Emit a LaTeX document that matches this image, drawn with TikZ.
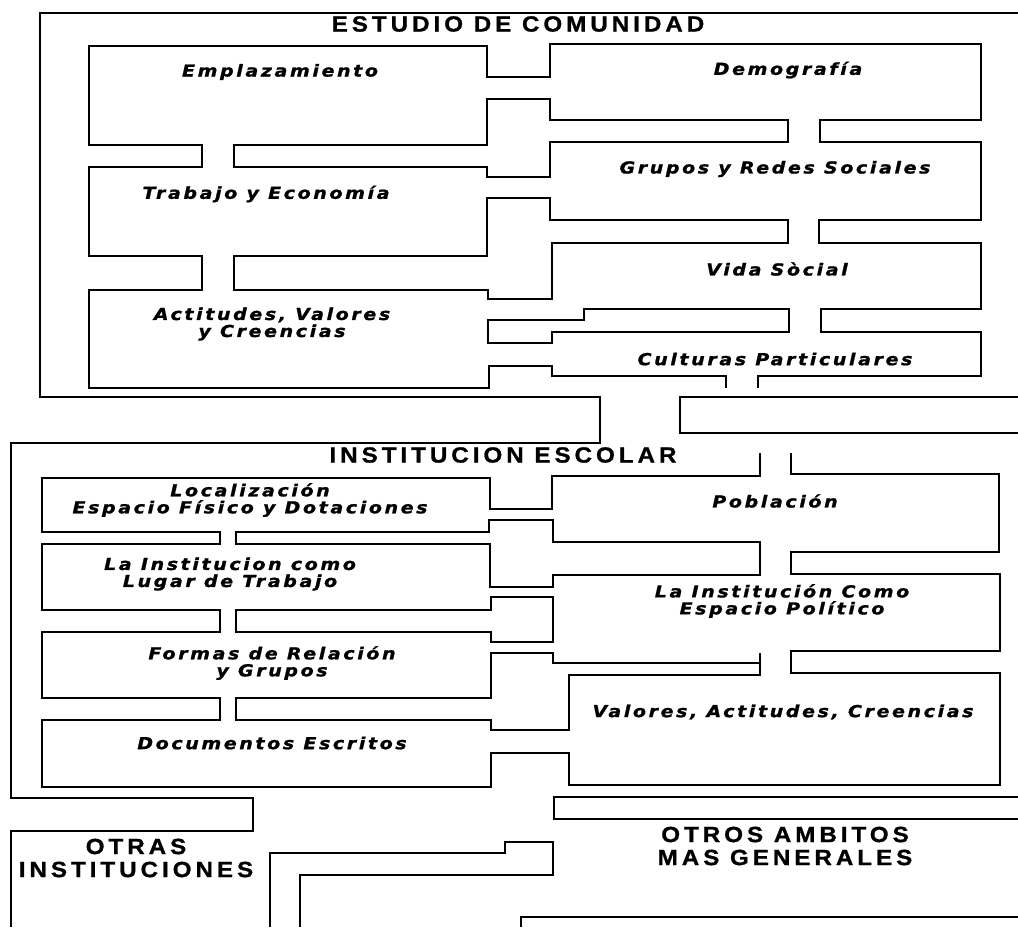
\documentclass[tikz,border=0pt]{standalone}
\usepackage{fontspec}
\setmainfont{Liberation Sans}
\newfontfamily\roomfam[LetterSpace=16, FakeStretch=1.15, FakeBold=1.2]{DejaVu Sans Bold Oblique}
\newfontfamily\headfam[LetterSpace=18, FakeStretch=1.1, FakeBold=1]{Liberation Sans Bold}
\newcommand{\roomfont}{\roomfam\fontsize{16.5}{17}\selectfont}
\newcommand{\headfont}{\headfam\fontsize{22}{23}\selectfont}

\begin{document}
\begin{tikzpicture}[x=1pt, y=-1pt, line join=miter,
    wall/.style={line width=1.8pt},
    room/.style={font=\roomfont, align=center, inner sep=0pt},
    head/.style={font=\headfont, align=center, inner sep=0pt}]
  \useasboundingbox (0,0) rectangle (1018,927);

  % estudio de comunidad
  \draw[wall] (1018,13) -- (40,13) -- (40,397) -- (600,397) -- (600,443) -- (11,443) -- (11,798)
    -- (253,798) -- (253,831) -- (11,831) -- (11,927);
  \draw[wall] (1018,397) -- (680,397) -- (680,433) -- (1018,433);
  \draw[wall] (726,388) -- (726,376) -- (552,376) -- (552,366) -- (489,366) -- (489,388) -- (89,388)
    -- (89,290) -- (202,290) -- (202,256) -- (89,256) -- (89,167) -- (202,167) -- (202,145)
    -- (89,145) -- (89,46) -- (487,46) -- (487,77) -- (550,77) -- (550,44) -- (981,44)
    -- (981,120) -- (820,120) -- (820,142) -- (981,142) -- (981,220) -- (819,220) -- (819,243)
    -- (981,243) -- (981,309) -- (821,309) -- (821,332) -- (981,332) -- (981,376) -- (758,376)
    -- (758,388);
  \draw[wall] (234,145) -- (487,145) -- (487,99) -- (550,99) -- (550,120) -- (788,120) -- (788,142)
    -- (550,142) -- (550,177) -- (487,177) -- (487,167) -- (234,167) -- cycle;
  \draw[wall] (234,256) -- (487,256) -- (487,198) -- (550,198) -- (550,220) -- (788,220) -- (788,243)
    -- (552,243) -- (552,299) -- (488,299) -- (488,290) -- (234,290) -- cycle;
  \draw[wall] (488,320) -- (584,320) -- (584,309) -- (789,309) -- (789,332) -- (552,332) -- (552,343)
    -- (488,343) -- cycle;

  \node[head] (estudio) at (518,24) {ESTUDIO DE COMUNIDAD};
  \node[room] (emplazamiento) at (280,72) {Emplazamiento};
  \node[room] (demografia) at (788,70) {Demografía};
  \node[room] (trabajo) at (266,194) {Trabajo y Economía};
  \node[room] (grupos) at (775,169) {Grupos y Redes Sociales};
  \node[room] (vidasocial) at (777,269) {Vida Sòcial};
  \node[room] (actitudes) at (272,324) {Actitudes, Valores\\y Creencias};
  \node[room] (culturas) at (775,359) {Culturas Particulares};

  % institucion escolar
  \draw[wall] (760,453) -- (760,476) -- (552,476) -- (552,509) -- (490,509) -- (490,478) -- (42,478)
    -- (42,532) -- (220,532) -- (220,544) -- (42,544) -- (42,610) -- (220,610) -- (220,632)
    -- (42,632) -- (42,698) -- (220,698) -- (220,720) -- (42,720) -- (42,787) -- (491,787)
    -- (491,753) -- (569,753) -- (569,785) -- (1000,785) -- (1000,673) -- (791,673) -- (791,651)
    -- (1000,651) -- (1000,574) -- (791,574) -- (791,552) -- (999,552) -- (999,474) -- (791,474)
    -- (791,453);
  \draw[wall] (236,532) -- (489,532) -- (489,520) -- (553,520) -- (553,542) -- (760,542) -- (760,575)
    -- (553,575) -- (553,587) -- (490,587) -- (490,544) -- (236,544) -- cycle;
  \draw[wall] (236,610) -- (491,610) -- (491,597) -- (553,597) -- (553,642) -- (491,642) -- (491,632)
    -- (236,632) -- cycle;
  \draw[wall] (236,698) -- (491,698) -- (491,653) -- (553,653) -- (553,663) -- (760,663) -- (760,675)
    -- (569,675) -- (569,730) -- (491,730) -- (491,720) -- (236,720) -- cycle;
  \draw[wall] (760,663) -- (760,653);

  \node[head] (institucion) at (503,455) {INSTITUCION ESCOLAR};
  \node[room] (localizacion) at (250,500) {Localización\\Espacio Físico y Dotaciones};
  \node[room] (lugartrabajo) at (230,574) {La Institucion como\\Lugar de Trabajo};
  \node[room] (formas) at (272,663) {Formas de Relación\\y Grupos};
  \node[room] (documentos) at (272,743) {Documentos Escritos};
  \node[room] (poblacion) at (775,501) {Población};
  \node[room] (espaciopol) at (782,601) {La Institución Como\\Espacio Político};
  \node[room] (valores) at (783,712) {Valores, Actitudes, Creencias};

  % otros ambitos
  \draw[wall] (270,927) -- (270,853) -- (505,853) -- (505,842) -- (553,842) -- (553,875) -- (300,875)
    -- (300,927);
  \draw[wall] (1018,797) -- (554,797) -- (554,819) -- (1018,819);
  \draw[wall] (521,927) -- (521,917) -- (1018,917);

  \node[head] (otrasinst) at (136,858) {OTRAS\\INSTITUCIONES};
  \node[head] (otrosamb) at (785,846) {OTROS AMBITOS\\MAS GENERALES};
\end{tikzpicture}
\end{document}
